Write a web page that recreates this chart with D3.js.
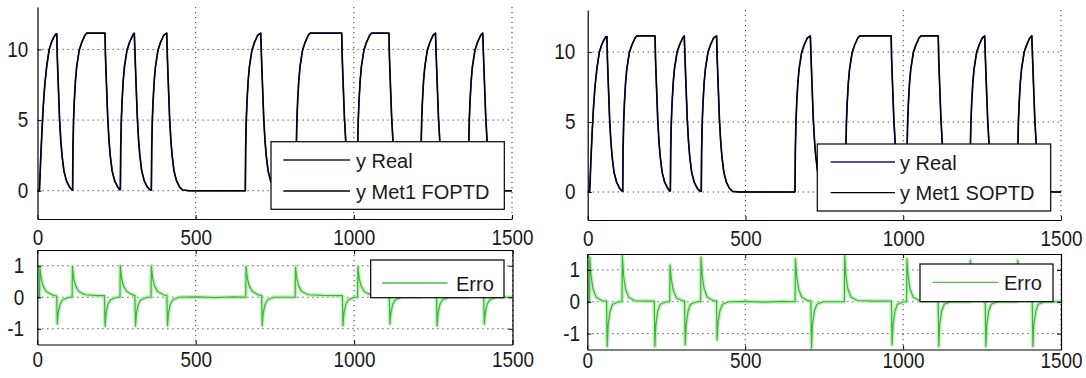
<!DOCTYPE html>
<html>
<head>
<meta charset="utf-8">
<script src="https://cdn.jsdelivr.net/npm/d3@7"></script>
<style>
  body { margin: 0; background: #fff; }
  svg { display: block; font-family: "Liberation Sans", Arial, sans-serif; }
  .tick text { transform-box: fill-box; transform-origin: center; transform: scale(0.97, 1.1); }
</style>
</head>
<body>
<svg id="chart" width="1086" height="378"></svg>
<script>
// x axis (samples) and tick labels
const xTicks = [0, 500, 1000, 1500];
const yTicksTop = [0, 5, 10];
const yTicksErr = [-1, 0, 1];

const tReal = [
  0, 6, 8, 10, 14, 18, 23, 29, 37, 44, 50, 58, 61,
  62.5, 65.2, 69.5, 73.5, 77.5, 83.5, 91.5, 101.5, 109,
  111, 112, 114, 116.5, 120, 124, 132, 140, 150, 156, 213.4,
  214.9, 217.6, 221.9, 225.9, 229.9, 235.9, 243.9, 253.9, 260,
  262, 263, 265, 267.5, 271, 275, 283, 291, 301, 306,
  308.5, 311.2, 315.5, 319.5, 323.5, 329.5, 337.5, 347.5, 357,
  360, 361, 363, 365.5, 369, 373, 381, 389, 399, 408.5,
  410.5, 413.2, 417.5, 421.5, 425.5, 431.5, 439.5, 449.5, 459, 480, 656,
  657, 658, 660, 662.5, 666, 670, 678, 686, 696, 705.6,
  708, 710.7, 715, 719, 723, 729, 737, 747, 756.5, 780, 816,
  817, 818, 820, 822.5, 826, 830, 838, 846, 856, 862, 961.7,
  963.2, 965.9, 970.2, 974.2, 978.2, 984.2, 992.2, 1002.2, 1010,
  1011, 1012, 1014, 1016.5, 1020, 1024, 1032, 1040, 1050, 1056, 1111,
  1112.5, 1115.2, 1119.5, 1123.5, 1127.5, 1133.5, 1141.5, 1151.5, 1161, 1185, 1211,
  1211.5, 1212.5, 1214.5, 1217, 1220.5, 1224.5, 1232.5, 1240.5, 1250.5, 1258,
  1260.5, 1263.2, 1267.5, 1271.5, 1275.5, 1281.5, 1289.5, 1299.5, 1309, 1335, 1361,
  1362, 1363, 1365, 1367.5, 1371, 1375, 1383, 1391, 1401, 1407.5,
  1410, 1412.7, 1417, 1421, 1425, 1431, 1439, 1449, 1458.5, 1480, 1500
];
const yReal = [
  0, 0, 1.0, 2.2, 4.2, 5.9, 7.5, 8.8, 10.0, 10.5, 10.8, 11.1, 11.1,
  9.5, 7.8, 5.2, 3.6, 2.5, 1.4, 0.7, 0.25, 0.06,
  0.05, 2.9, 5.0, 6.4, 7.8, 8.8, 9.96, 10.5, 11.0, 11.15, 11.15,
  9.5, 7.8, 5.2, 3.6, 2.5, 1.4, 0.7, 0.25, 0.08,
  0.08, 2.9, 5.0, 6.4, 7.8, 8.8, 9.96, 10.5, 11.0, 11.15,
  9.5, 7.8, 5.2, 3.6, 2.5, 1.4, 0.7, 0.25, 0.05,
  0.05, 2.9, 5.0, 6.4, 7.8, 8.8, 9.96, 10.5, 11.0, 11.15,
  9.5, 7.8, 5.2, 3.6, 2.5, 1.4, 0.7, 0.25, 0.05, 0, 0,
  0.02, 2.9, 5.0, 6.4, 7.8, 8.8, 9.96, 10.5, 11.0, 11.15,
  9.5, 7.8, 5.2, 3.6, 2.5, 1.4, 0.7, 0.25, 0.05, 0, 0,
  0.02, 2.9, 5.0, 6.4, 7.8, 8.8, 9.96, 10.5, 11.0, 11.15, 11.15,
  9.5, 7.8, 5.2, 3.6, 2.5, 1.4, 0.7, 0.25, 0.08,
  0.08, 2.9, 5.0, 6.4, 7.8, 8.8, 9.96, 10.5, 11.0, 11.15, 11.15,
  9.5, 7.8, 5.2, 3.6, 2.5, 1.4, 0.7, 0.25, 0.05, 0, 0,
  0.02, 2.9, 5.0, 6.4, 7.8, 8.8, 9.96, 10.5, 11.0, 11.15,
  9.5, 7.8, 5.2, 3.6, 2.5, 1.4, 0.7, 0.25, 0.05, 0, 0,
  0.02, 2.9, 5.0, 6.4, 7.8, 8.8, 9.96, 10.5, 11.0, 11.15,
  9.5, 7.8, 5.2, 3.6, 2.5, 1.4, 0.7, 0.25, 0.05, 0, 0
];
// at this resolution both model traces lie on the measured one
const yMet1Foptd = yReal;
const yMet1Soptd = yReal;

// modelling error
const tErr = [
  0, 7, 8, 12, 18, 28, 48,
  61, 63, 66, 72, 80, 100,
  110, 111, 115, 121, 131, 151, 190,
  212, 214, 217, 223, 231, 251,
  261, 262, 266, 272, 282, 302,
  308, 310, 313, 319, 327, 347,
  359, 360, 364, 370, 380, 400,
  409, 411, 414, 420, 428, 448, 500, 560, 620,
  658, 659, 663, 669, 679, 699,
  708, 710, 713, 719, 727, 747, 790,
  814, 815, 819, 825, 835, 855, 900,
  963, 965, 968, 974, 982, 1002,
  1011, 1012, 1016, 1022, 1032, 1052, 1090,
  1111, 1113, 1116, 1122, 1130, 1150, 1190,
  1212, 1213, 1217, 1223, 1233, 1253,
  1260, 1262, 1265, 1271, 1279, 1299, 1330,
  1362, 1363, 1367, 1373, 1383, 1403,
  1409, 1411, 1414, 1420, 1428, 1448, 1500
];
const erroFoptd = [
  0, 0, 0.97, 0.6, 0.36, 0.18, 0.07,
  0.04, -0.85, -0.5, -0.22, -0.08, 0.0,
  0.0, 0.98, 0.6, 0.36, 0.18, 0.08, 0.05,
  0.05, -0.92, -0.5, -0.22, -0.08, 0.0,
  0.0, 1.0, 0.6, 0.36, 0.18, 0.07,
  0.06, -0.92, -0.5, -0.22, -0.08, 0.0,
  0.0, 1.0, 0.6, 0.36, 0.18, 0.07,
  0.06, -0.9, -0.5, -0.22, -0.08, 0.0, 0.01, -0.01, 0.01,
  0.0, 0.98, 0.6, 0.36, 0.18, 0.07,
  0.06, -0.9, -0.5, -0.22, -0.08, 0.0, 0.0,
  0.0, 0.96, 0.6, 0.36, 0.18, 0.08, 0.06,
  0.05, -0.9, -0.5, -0.22, -0.08, 0.0,
  0.0, 0.98, 0.6, 0.36, 0.18, 0.08, 0.05,
  0.05, -0.85, -0.5, -0.22, -0.08, 0.0, 0.0,
  0.0, 0.97, 0.6, 0.36, 0.18, 0.07,
  0.06, -0.9, -0.5, -0.22, -0.08, 0.0, 0.0,
  0.0, 0.97, 0.6, 0.36, 0.18, 0.07,
  0.06, -0.85, -0.5, -0.22, -0.08, 0.0, 0.0
];
const erroSoptd = [
  0, 0, 1.4, 0.8, 0.4, 0.14, 0.03,
  0.02, -1.4, -0.72, -0.3, -0.08, 0.0,
  0.0, 1.45, 0.8, 0.4, 0.14, 0.03, 0.02,
  0.02, -1.4, -0.72, -0.3, -0.08, 0.0,
  0.0, 1.15, 0.7, 0.36, 0.12, 0.03,
  0.03, -1.35, -0.72, -0.3, -0.08, 0.0,
  0.0, 1.4, 0.8, 0.4, 0.14, 0.03,
  0.03, -1.2, -0.65, -0.28, -0.08, 0.0, 0.01, -0.01, 0.01,
  0.0, 1.35, 0.8, 0.4, 0.14, 0.03,
  0.03, -1.45, -0.72, -0.3, -0.08, 0.0, 0.0,
  0.0, 1.45, 0.8, 0.4, 0.14, 0.04, 0.02,
  0.02, -1.35, -0.72, -0.3, -0.08, 0.0,
  0.0, 1.35, 0.8, 0.4, 0.14, 0.04, 0.02,
  0.02, -1.4, -0.72, -0.3, -0.08, 0.0, 0.0,
  0.0, 1.3, 0.8, 0.4, 0.14, 0.03,
  0.03, -1.4, -0.72, -0.3, -0.08, 0.0, 0.0,
  0.0, 1.3, 0.8, 0.4, 0.14, 0.03,
  0.03, -1.4, -0.72, -0.3, -0.08, 0.0, 0.0
];

const svg = d3.select('#chart');
const realColor = '#16166e';
const errColor = '#3db53d';

const panels = [
  { id: 'tl', left: 37.5, right: 512, top: 7, bottom: 219, yDomain: [-2, 13], yTicks: yTicksTop,
    box: false, xPad: 11.5, yPad: 9,
    series: [{ t: tReal, v: yReal, color: realColor, w: 1.7 }, { t: tReal, v: yMet1Foptd, color: '#000', w: 1.3 }],
    legend: { x: 271, y: 141.7, w: 233.3, h: 67.6, lx1: 283.3, lx2: 350, tx: 356,
      items: [{ label: 'y Real', color: realColor, ly: 160 }, { label: 'y Met1 FOPTD', color: '#000', ly: 191 }] } },
  { id: 'tr', left: 587.7, right: 1061, top: 10, bottom: 220, yDomain: [-2, 13], yTicks: yTicksTop,
    box: false, xPad: 11, yPad: 12,
    series: [{ t: tReal, v: yReal, color: realColor, w: 1.7 }, { t: tReal, v: yMet1Soptd, color: '#000', w: 1.3 }],
    legend: { x: 817.3, y: 144, w: 233.4, h: 67, lx1: 830.7, lx2: 895, tx: 900,
      items: [{ label: 'y Real', color: realColor, ly: 162 }, { label: 'y Met1 SOPTD', color: '#000', ly: 192.7 }] } },
  { id: 'bl', left: 37.3, right: 512.5, top: 250, bottom: 344.5, yDomain: [-1.5, 1.5], yTicks: yTicksErr,
    box: true, xPad: 7.5, yPad: 13, err: true,
    series: [{ t: tErr, v: erroFoptd, color: errColor, w: 1.2 }],
    legend: { x: 370.7, y: 260, w: 133.3, h: 37.7, lx1: 382, lx2: 447.6, tx: 456,
      items: [{ label: 'Erro', color: '#4cbb4c', ly: 283 }] } },
  { id: 'br', left: 587.3, right: 1061, top: 254, bottom: 349.5, yDomain: [-1.5, 1.5], yTicks: yTicksErr,
    box: true, xPad: 4, yPad: 7, err: true,
    series: [{ t: tErr, v: erroSoptd, color: errColor, w: 1.2 }],
    legend: { x: 920, y: 264, w: 133, h: 37.7, lx1: 932.7, lx2: 998.3, tx: 1004,
      items: [{ label: 'Erro', color: '#4cbb4c', ly: 282.3 }] } }
];

panels.forEach(drawPanel);

function drawPanel(p) {
  const x = d3.scaleLinear().domain([0, 1500]).range([p.left, p.right]);
  const y = d3.scaleLinear().domain(p.yDomain).range([p.bottom, p.top]);
  const g = svg.append('g');

  svg.append('clipPath').attr('id', 'clip-' + p.id)
    .append('rect')
    .attr('x', p.left).attr('y', p.top)
    .attr('width', p.right - p.left).attr('height', p.bottom - p.top);

  // dotted grid
  g.append('g').selectAll('line')
    .data(p.yTicks)
    .join('line')
    .attr('x1', p.left).attr('x2', p.right)
    .attr('y1', d => y(d)).attr('y2', d => y(d))
    .attr('stroke', '#333').attr('stroke-width', 1)
    .attr('stroke-dasharray', '1.2,3.8');
  g.append('g').selectAll('line')
    .data(xTicks.filter(d => d > 0))
    .join('line')
    .attr('x1', d => x(d)).attr('x2', d => x(d))
    .attr('y1', p.top).attr('y2', p.bottom)
    .attr('stroke', '#333').attr('stroke-width', 1)
    .attr('stroke-dasharray', '1.2,3.8');

  // traces
  const plot = g.append('g').attr('clip-path', `url(#clip-${p.id})`);
  p.series.forEach(s => {
    const line = d3.line()
      .x((d, i) => x(s.t[i]))
      .y(d => y(d));
    if (p.err) {
      plot.append('path')
        .datum(s.v)
        .attr('d', line)
        .attr('fill', 'none')
        .attr('stroke', '#b2eeaa')
        .attr('stroke-width', 4)
        .attr('stroke-opacity', 0.8)
        .attr('stroke-linejoin', 'round');
    }
    plot.append('path')
      .datum(s.v)
      .attr('d', line)
      .attr('fill', 'none')
      .attr('stroke', s.color)
      .attr('stroke-width', s.w)
      .attr('stroke-linejoin', 'round');
  });

  // axes
  const xAxis = g.append('g')
    .attr('transform', `translate(0,${p.bottom})`)
    .call(d3.axisBottom(x).tickValues(xTicks).tickSize(-4).tickSizeOuter(0)
      .tickPadding(p.xPad).tickFormat(d => String(d)));
  const yAxis = g.append('g')
    .attr('transform', `translate(${p.left},0)`)
    .call(d3.axisLeft(y).tickValues(p.yTicks).tickSize(-4).tickSizeOuter(0)
      .tickPadding(p.yPad).tickFormat(d => String(d)));

  if (p.box) {
    g.append('g')
      .attr('transform', `translate(0,${p.top})`)
      .call(d3.axisTop(x).tickValues(xTicks).tickSize(-4).tickSizeOuter(0).tickFormat(''));
    g.append('g')
      .attr('transform', `translate(${p.right},0)`)
      .call(d3.axisRight(y).tickValues(p.yTicks).tickSize(-4).tickSizeOuter(0).tickFormat(''));
  }

  g.selectAll('.domain').attr('stroke', '#000').attr('stroke-width', 1.2);
  g.selectAll('.tick line').attr('stroke', '#000');
  [xAxis, yAxis].forEach(a => a.selectAll('text')
    .attr('font-family', '"Liberation Sans", Arial, sans-serif')
    .attr('font-size', 19.5)
    .attr('fill', '#1a1a1a'));

  // legend
  const L = p.legend;
  const lg = g.append('g');
  lg.append('rect')
    .attr('x', L.x).attr('y', L.y)
    .attr('width', L.w).attr('height', L.h)
    .attr('fill', '#fff').attr('stroke', '#000').attr('stroke-width', 1.2);
  L.items.forEach(it => {
    lg.append('line')
      .attr('x1', L.lx1).attr('x2', L.lx2)
      .attr('y1', it.ly).attr('y2', it.ly)
      .attr('stroke', it.color).attr('stroke-width', 1.3);
    lg.append('text')
      .attr('x', L.tx).attr('y', it.ly + 7.5)
      .attr('font-size', 20)
      .attr('fill', '#1a1a1a')
      .text(it.label);
  });
}
</script>
</body>
</html>
